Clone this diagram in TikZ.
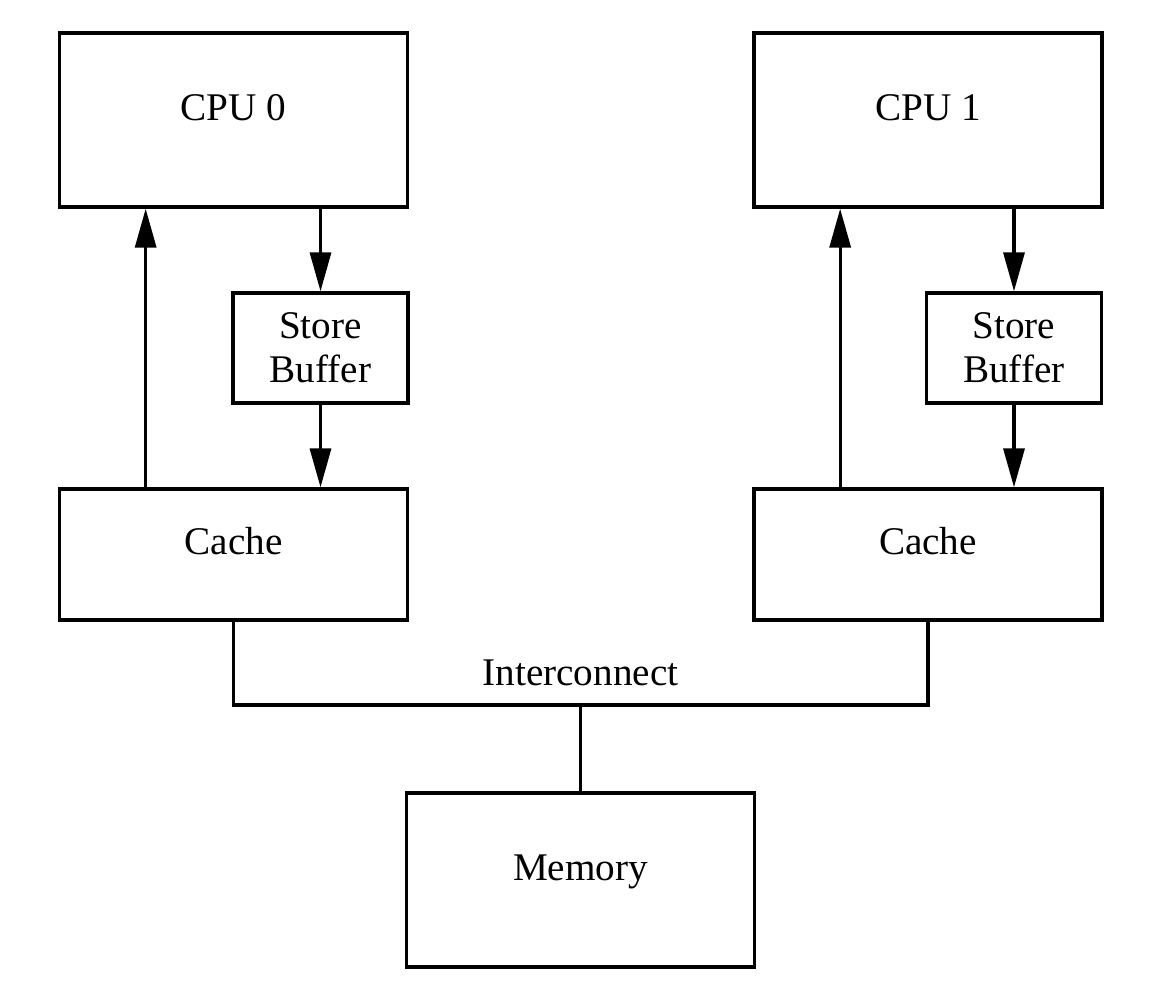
\documentclass[tikz,border=0pt]{standalone}
\usepackage{fontspec}
\setmainfont{Liberation Serif}
\usepackage{tikz}
\usetikzlibrary{arrows.meta,positioning,calc}

\begin{document}
\begin{tikzpicture}[font=\fontsize{22.3}{25}\selectfont, line width=1.9pt,
    unit/.style={draw, rectangle, minimum width=6.96cm, text height=0.3cm, text depth=0.3cm},
    sbuf/.style={draw, rectangle, minimum width=3.5cm, minimum height=2.2cm, align=center},
    flow/.style={-{Triangle[length=0.78cm, width=0.42cm]}}]
    \useasboundingbox (0, 0) rectangle (23.44, -20.08);
    % processors
    \node[unit, minimum height=3.48cm] (cpu0) at (4.67, -2.40) {CPU 0};
    \node[unit, minimum height=3.48cm] (cpu1) at (18.56, -2.40) {CPU 1};
    % store buffers
    \node[sbuf] (sb0) at (6.41, -6.96) {Store\\Buffer};
    \node[sbuf] (sb1) at (20.28, -6.96) {Store\\Buffer};
    % caches
    \node[unit, minimum height=2.62cm] (cache0) at (4.67, -11.09) {Cache};
    \node[unit, minimum height=2.62cm] (cache1) at (18.56, -11.09) {Cache};
    % memory
    \node[unit, minimum height=3.48cm] (mem) at (11.61, -17.60) {Memory};
    \coordinate (bus) at (11.61, -14.10);
    \node[anchor=base] (ic) at ([yshift=0.4cm]bus) {Interconnect};
    % arrows
    \draw[flow] (cpu0.south -| sb0.north) -- (sb0.north);
    \draw[flow] (sb0.south) -- (sb0.south |- cache0.north);
    \draw[flow] ($(cache0.north west)!0.25!(cache0.north east)$) coordinate (up0) -- (up0 |- cpu0.south);
    \draw[flow] (cpu1.south -| sb1.north) -- (sb1.north);
    \draw[flow] (sb1.south) -- (sb1.south |- cache1.north);
    \draw[flow] ($(cache1.north west)!0.25!(cache1.north east)$) coordinate (up1) -- (up1 |- cpu1.south);
    % interconnect
    \draw (cache0.south) |- (bus) -| (cache1.south);
    \draw (bus) -- (mem.north);
\end{tikzpicture}
\end{document}
